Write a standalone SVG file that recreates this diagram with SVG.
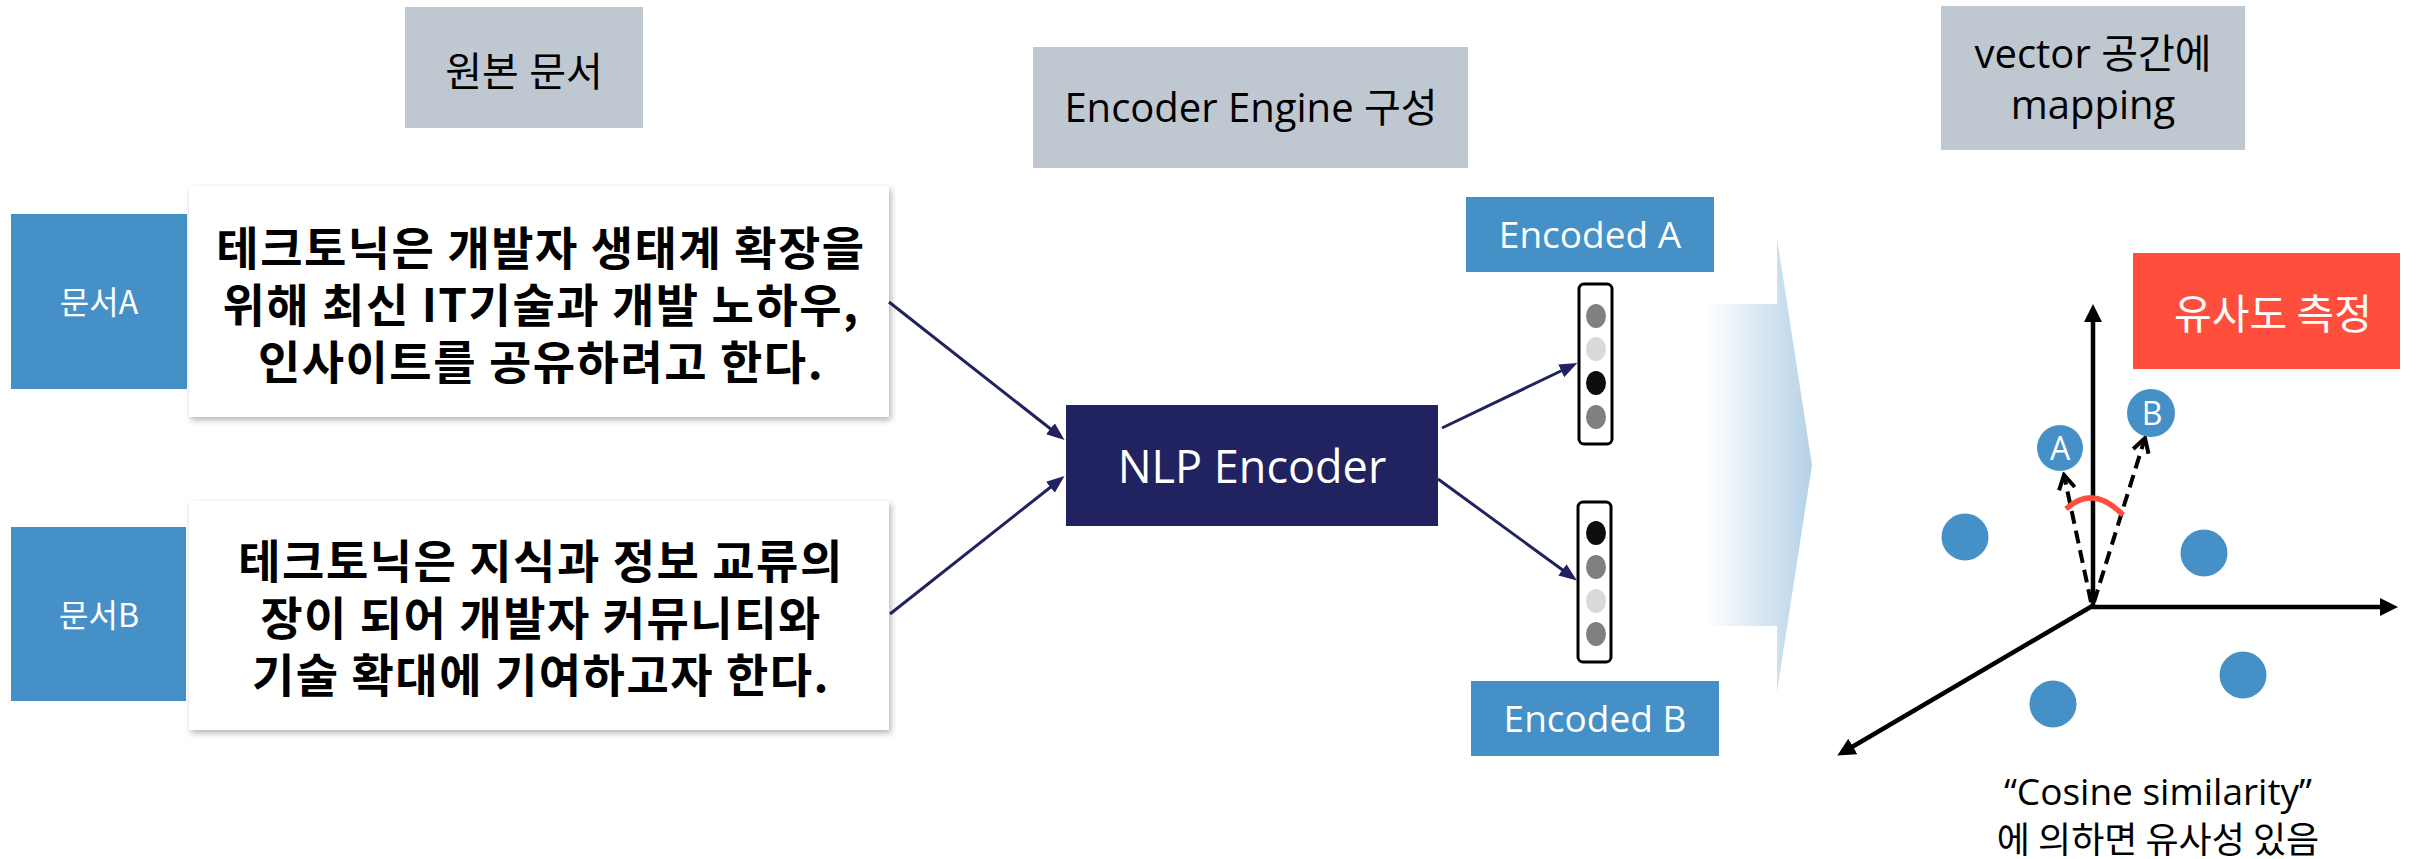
<svg xmlns="http://www.w3.org/2000/svg" width="2423" height="859" viewBox="0 0 2423 859">
<defs>
<style>
.hdr{fill:#BFC7D0}
.hdrt{font-family:"Open Sans","Noto Sans CJK KR",sans-serif;font-size:40px;fill:#000;text-anchor:middle}
.tag{fill:#4590C6}
.tagt{font-family:"Noto Sans CJK KR",sans-serif;font-size:32px;fill:#fff;text-anchor:middle}
.doc{fill:#fff;filter:url(#sh)}
.doct{font-family:"Noto Sans CJK KR",sans-serif;font-size:46px;font-weight:700;letter-spacing:1.5px;fill:#000;text-anchor:middle}
.enct{font-family:"Open Sans","Noto Sans CJK KR",sans-serif;font-size:37px;fill:#fff;text-anchor:middle}
.conn{stroke:#20235F;stroke-width:3;fill:none;marker-end:url(#nav)}
.axis{stroke:#000;stroke-width:4.5;fill:none;marker-end:url(#blk)}
.dash{stroke:#000;stroke-width:4;fill:none;stroke-dasharray:13 7;marker-end:url(#open)}
.pt{fill:#4590C6}
.ptt{font-family:"Open Sans",sans-serif;font-size:32px;fill:#fff;text-anchor:middle}
.vec{fill:#fff;stroke:#000;stroke-width:3}
</style>
<filter id="sh" x="-5%" y="-10%" width="110%" height="125%">
<feDropShadow dx="2" dy="3" stdDeviation="3" flood-color="#000" flood-opacity="0.3"/>
</filter>
<linearGradient id="grad" x1="1705" y1="0" x2="1812" y2="0" gradientUnits="userSpaceOnUse">
<stop offset="0" stop-color="#FFFFFF"/>
<stop offset="1" stop-color="#B5D2E7"/>
</linearGradient>
<marker id="nav" viewBox="0 0 18 14" refX="2" refY="7" markerWidth="18" markerHeight="14" markerUnits="userSpaceOnUse" orient="auto">
<path d="M0,0 L18,7 L0,14 Z" fill="#20235F"/>
</marker>
<marker id="blk" viewBox="0 0 18 18" refX="1" refY="9" markerWidth="18" markerHeight="18" markerUnits="userSpaceOnUse" orient="auto">
<path d="M0,0 L18,9 L0,18 Z" fill="#000"/>
</marker>
<marker id="open" viewBox="0 0 20 20" refX="17" refY="10" markerWidth="20" markerHeight="20" markerUnits="userSpaceOnUse" orient="auto">
<path d="M3,2 L17,10 L3,18" fill="none" stroke="#000" stroke-width="4" stroke-dasharray="none"/>
</marker>
</defs>
<rect width="2423" height="859" fill="#fff"/>

<g id="hdr-source">
<rect class="hdr" x="405" y="7" width="238" height="121"/>
<text class="hdrt" x="524" y="86" font-size="41">원본 문서</text>
</g>
<g id="hdr-engine">
<rect class="hdr" x="1033" y="47" width="435" height="121"/>
<text class="hdrt" x="1251" y="122">Encoder Engine 구성</text>
</g>
<g id="hdr-vector">
<rect class="hdr" x="1941" y="6" width="304" height="144"/>
<text class="hdrt" x="2093" y="68">vector 공간에</text>
<text class="hdrt" x="2093" y="119">mapping</text>
</g>

<g id="tag-a">
<rect class="tag" x="11" y="214" width="176" height="175"/>
<text class="tagt" x="99" y="314">문서A</text>
</g>
<g id="doc-a">
<rect class="doc" x="189" y="186" width="700" height="231"/>
<text class="doct" x="541" y="265">테크토닉은 개발자 생태계 확장을</text>
<text class="doct" x="541" y="322">위해 최신 IT기술과 개발 노하우,</text>
<text class="doct" x="541" y="379">인사이트를 공유하려고 한다.</text>
</g>
<g id="tag-b">
<rect class="tag" x="11" y="527" width="175" height="174"/>
<text class="tagt" x="99" y="627">문서B</text>
</g>
<g id="doc-b">
<rect class="doc" x="189" y="501" width="700" height="229"/>
<text class="doct" x="541" y="578">테크토닉은 지식과 정보 교류의</text>
<text class="doct" x="541" y="635">장이 되어 개발자 커뮤니티와</text>
<text class="doct" x="541" y="692">기술 확대에 기여하고자 한다.</text>
</g>

<g id="nlp-encoder">
<rect x="1066" y="405" width="372" height="121" fill="#20235F"/>
<text x="1252" y="483" font-family="'Open Sans',sans-serif" font-size="45" fill="#fff" text-anchor="middle">NLP Encoder</text>
</g>

<g id="encoded-a">
<rect class="tag" x="1466" y="197" width="248" height="75"/>
<text class="enct" x="1590" y="248">Encoded A</text>
</g>
<g id="vector-a">
<rect class="vec" x="1579" y="284" width="33" height="160" rx="5"/>
<ellipse cx="1596" cy="316" rx="10" ry="12" fill="#808080"/>
<ellipse cx="1596" cy="349" rx="10" ry="12" fill="#D9D9D9"/>
<ellipse cx="1596" cy="383" rx="10" ry="12" fill="#0D0D0D"/>
<ellipse cx="1596" cy="417" rx="10" ry="12" fill="#808080"/>
</g>
<g id="vector-b">
<rect class="vec" x="1578" y="502" width="33" height="160" rx="5"/>
<ellipse cx="1596" cy="533" rx="10" ry="12" fill="#0D0D0D"/>
<ellipse cx="1596" cy="567" rx="10" ry="12" fill="#808080"/>
<ellipse cx="1596" cy="601" rx="10" ry="12" fill="#D9D9D9"/>
<ellipse cx="1596" cy="634" rx="10" ry="12" fill="#808080"/>
</g>
<g id="encoded-b">
<rect class="tag" x="1471" y="681" width="248" height="75"/>
<text class="enct" x="1595" y="732">Encoded B</text>
</g>

<g id="flow-arrow">
<path d="M1705,304 L1777,304 L1777,238 L1812,465 L1777,692 L1777,626 L1705,626 Z" fill="url(#grad)"/>
</g>

<g id="similarity">
<rect x="2133" y="253" width="267" height="116" fill="#FF4F3C"/>
<text x="2273" y="329" font-family="'Noto Sans CJK KR',sans-serif" font-size="41" fill="#fff" text-anchor="middle">유사도 측정</text>
</g>

<g id="vector-space">
<line class="axis" x1="2093" y1="608" x2="2093" y2="321"/>
<line class="axis" x1="2091" y1="607" x2="2381" y2="607"/>
<line class="axis" x1="2094" y1="605" x2="1852" y2="747"/>
<circle class="pt" cx="1965" cy="537" r="23.5"/>
<circle class="pt" cx="2204" cy="553" r="23.5"/>
<circle class="pt" cx="2053" cy="704" r="23.5"/>
<circle class="pt" cx="2243" cy="675" r="23.5"/>
<line class="dash" x1="2091" y1="602" x2="2064" y2="475"/>
<line class="dash" x1="2094" y1="602" x2="2145" y2="438"/>
<path d="M2066,509 Q2093,484 2123,515" fill="none" stroke="#FF4F3C" stroke-width="5.5"/>
<g id="point-a">
<circle class="pt" cx="2060" cy="448" r="23"/>
<text class="ptt" x="2060" y="460">A</text>
</g>
<g id="point-b">
<circle class="pt" cx="2151" cy="413" r="24"/>
<text class="ptt" x="2152" y="425">B</text>
</g>
<text x="2158" y="805" font-family="'Open Sans','Noto Sans CJK KR',sans-serif" font-size="37" fill="#000" text-anchor="middle">“Cosine similarity”</text>
<text x="2158" y="853" font-family="'Noto Sans CJK KR',sans-serif" font-size="36" fill="#000" text-anchor="middle">에 의하면 유사성 있음</text>
</g>

<g id="connectors">
<line class="conn" x1="889" y1="302" x2="1052" y2="430"/>
<line class="conn" x1="890" y1="614" x2="1052" y2="486"/>
<line class="conn" x1="1442" y1="428" x2="1563" y2="370"/>
<line class="conn" x1="1438" y1="479" x2="1564" y2="571"/>
</g>
</svg>
